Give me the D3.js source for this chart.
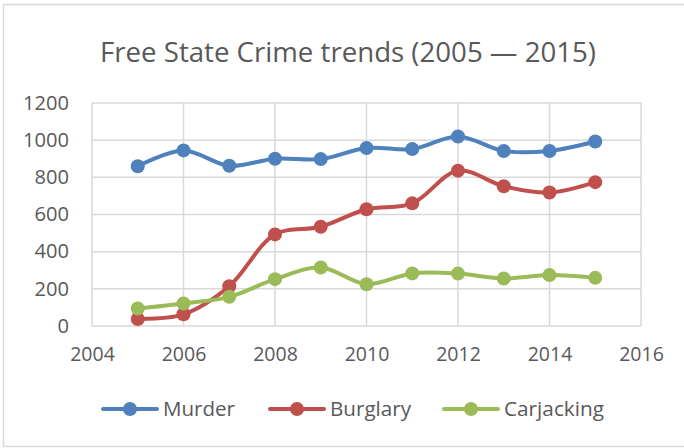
<!DOCTYPE html>
<html>
<head>
<meta charset="utf-8">
<script src="https://cdnjs.cloudflare.com/ajax/libs/d3/7.8.5/d3.min.js"></script>
<style>
  body { margin: 0; background: #fff; }
  svg text { font-family: "Open Sans", "Liberation Sans", sans-serif; fill: #595959; }
</style>
</head>
<body>
<script>
const title = 'Free State Crime trends (2005 \u2014 2015)';
const years = [2005, 2006, 2007, 2008, 2009, 2010, 2011, 2012, 2013, 2014, 2015];
const murder = [860, 945, 862, 900, 898, 958, 952, 1020, 942, 942, 993];
const burglary = [38, 63, 214, 493, 534, 628, 660, 836, 752, 718, 774];
const carjacking = [94, 121, 157, 252, 315, 225, 283, 282, 256, 274, 259];
const seriesNames = ['Murder', 'Burglary', 'Carjacking'];
const seriesColors = ['#4f81bd', '#c0504d', '#9bbb59'];
const xTicks = [2004, 2006, 2008, 2010, 2012, 2014, 2016];
const yTicks = [0, 200, 400, 600, 800, 1000, 1200];

const W = 684, H = 448;
const margin = { top: 103, right: 43, bottom: 122, left: 92 };
const w = W - margin.left - margin.right;
const h = H - margin.top - margin.bottom;

const svg = d3.select('body').append('svg')
  .attr('width', W)
  .attr('height', H);

// chart frame
svg.append('rect')
  .attr('x', 3.5).attr('y', 4.5)
  .attr('width', W + 10).attr('height', 442)
  .attr('fill', '#fff')
  .attr('stroke', '#d9d9d9')
  .attr('stroke-width', 1.5);

svg.append('text')
  .attr('x', 348)
  .attr('y', 62)
  .attr('text-anchor', 'middle')
  .attr('font-size', 27)
  .attr('textLength', 496)
  .attr('lengthAdjust', 'spacingAndGlyphs')
  .text(title);

const g = svg.append('g')
  .attr('transform', 'translate(' + margin.left + ',' + margin.top + ')');

const x = d3.scaleLinear().domain([2004, 2016]).range([0, w]);
const y = d3.scaleLinear().domain([0, 1200]).range([h, 0]);

// gridlines
g.append('g').selectAll('line.h')
  .data(yTicks).enter().append('line')
  .attr('x1', 0).attr('x2', w)
  .attr('y1', d => y(d)).attr('y2', d => y(d))
  .attr('stroke', '#d9d9d9').attr('stroke-width', 1.5);

g.append('g').selectAll('line.v')
  .data(xTicks).enter().append('line')
  .attr('x1', d => x(d)).attr('x2', d => x(d))
  .attr('y1', 0).attr('y2', h)
  .attr('stroke', '#d9d9d9').attr('stroke-width', 1.5);

// axes
const xAxis = g.append('g')
  .attr('transform', 'translate(0,' + h + ')')
  .call(d3.axisBottom(x).tickValues(xTicks).tickFormat(d3.format('d')).tickSize(0).tickPadding(25));
const yAxis = g.append('g')
  .call(d3.axisLeft(y).tickValues(yTicks).tickFormat(d3.format('d')).tickSize(0).tickPadding(23));
[xAxis, yAxis].forEach(a => {
  a.select('.domain').remove();
  a.selectAll('text').attr('font-size', 19.5).attr('fill', '#595959')
    .attr('font-family', '"Open Sans", "Liberation Sans", sans-serif');
});
xAxis.selectAll('text').attr('dy', '0.5em');
yAxis.selectAll('text').attr('textLength', d => String(d).length * 11.5).attr('lengthAdjust', 'spacingAndGlyphs');

const allSeries = [murder, burglary, carjacking];
const line = d3.line()
  .x((d, i) => x(years[i]))
  .y(d => y(d))
  .curve(d3.curveCatmullRom.alpha(0.5));

allSeries.forEach((vals, s) => {
  g.append('path')
    .datum(vals)
    .attr('d', line)
    .attr('fill', 'none')
    .attr('stroke', seriesColors[s])
    .attr('stroke-width', 4)
    .attr('stroke-linecap', 'round');
  g.append('g').selectAll('circle')
    .data(vals).enter().append('circle')
    .attr('cx', (d, i) => x(years[i]))
    .attr('cy', d => y(d))
    .attr('r', 7)
    .attr('fill', seriesColors[s]);
});

// legend
const legendX = [103, 270, 444];
const legendW = [72, 81, 100];
const legend = svg.append('g').attr('transform', 'translate(0,409)');
seriesNames.forEach((name, i) => {
  const lg = legend.append('g').attr('transform', 'translate(' + legendX[i] + ',0)');
  lg.append('line').attr('x1', 0).attr('x2', 54).attr('y1', 0).attr('y2', 0)
    .attr('stroke', seriesColors[i]).attr('stroke-width', 4).attr('stroke-linecap', 'round');
  lg.append('circle').attr('cx', 27).attr('cy', 0).attr('r', 7).attr('fill', seriesColors[i]);
  lg.append('text').attr('x', 60).attr('y', 7).attr('font-size', 20)
    .attr('textLength', legendW[i]).attr('lengthAdjust', 'spacingAndGlyphs')
    .text(name);
});
</script>
</body>
</html>
